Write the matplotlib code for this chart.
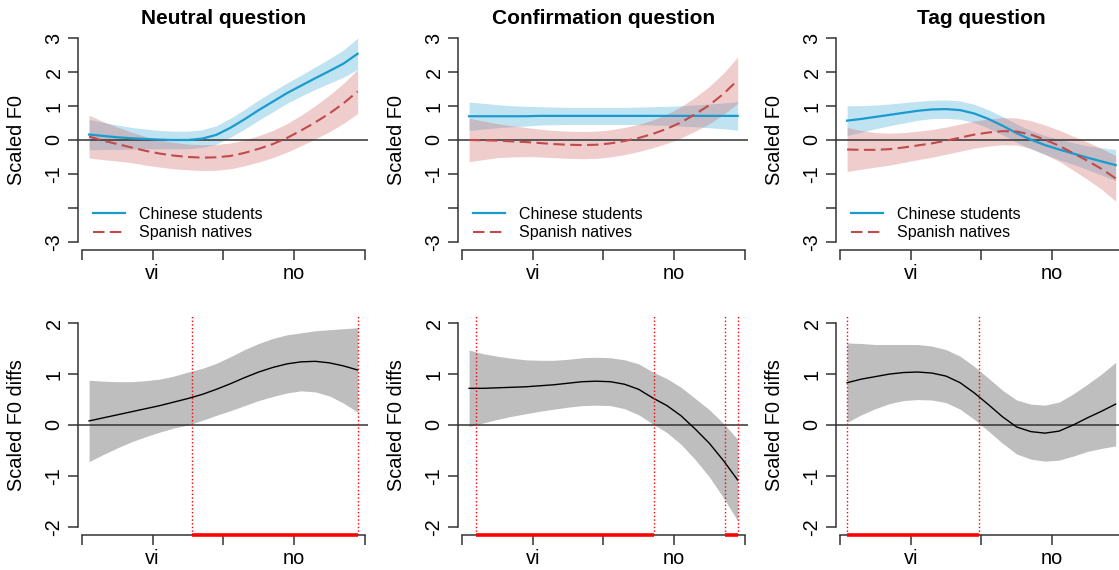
import numpy as np
import matplotlib.pyplot as plt

plt.rcParams['font.family'] = ['Liberation Sans', 'DejaVu Sans']

# normalised time over "vi no"
t = np.array([0.025, 0.075, 0.125, 0.175, 0.225, 0.275, 0.325, 0.375, 0.425, 0.475,
              0.525, 0.575, 0.625, 0.675, 0.725, 0.775, 0.825, 0.875, 0.925, 0.975])

titles = ["Neutral question", "Confirmation question", "Tag question"]
group_labels = ["Chinese students", "Spanish natives"]
xtick_pos = [0, 0.25, 0.5, 0.75, 1]
xtick_labels = ["", "vi", "", "no", ""]

# --- fitted smooths (fit and CI half width) ---
neutral_cn = [0.16, 0.12, 0.08, 0.05, 0.03, 0.01, 0.0, 0.0, 0.04, 0.15,
              0.36, 0.61, 0.88, 1.13, 1.38, 1.60, 1.82, 2.03, 2.25, 2.54]
neutral_cn_ci = [0.45, 0.40, 0.36, 0.32, 0.29, 0.27, 0.26, 0.26, 0.26, 0.27,
                 0.28, 0.29, 0.30, 0.30, 0.30, 0.31, 0.33, 0.36, 0.40, 0.46]
neutral_es = [0.10, -0.02, -0.12, -0.22, -0.32, -0.40, -0.46, -0.50, -0.52, -0.51,
              -0.47, -0.38, -0.26, -0.12, 0.06, 0.28, 0.52, 0.78, 1.08, 1.43]
neutral_es_ci = [0.63, 0.56, 0.50, 0.45, 0.42, 0.40, 0.39, 0.38, 0.38, 0.38,
                 0.38, 0.38, 0.39, 0.40, 0.42, 0.45, 0.49, 0.54, 0.59, 0.65]

confirm_cn = [0.70, 0.70, 0.70, 0.70, 0.70, 0.71, 0.71, 0.71, 0.71, 0.71,
              0.71, 0.71, 0.71, 0.71, 0.71, 0.71, 0.71, 0.71, 0.71, 0.71]
confirm_cn_ci = [0.42, 0.38, 0.34, 0.31, 0.29, 0.27, 0.26, 0.25, 0.25, 0.25,
                 0.25, 0.25, 0.26, 0.27, 0.28, 0.30, 0.32, 0.35, 0.38, 0.42]
confirm_es = [0.0, -0.01, -0.02, -0.04, -0.06, -0.09, -0.12, -0.14, -0.15, -0.14,
              -0.10, -0.03, 0.06, 0.18, 0.33, 0.52, 0.76, 1.03, 1.36, 1.76]
confirm_es_ci = [0.64, 0.57, 0.50, 0.46, 0.43, 0.41, 0.40, 0.40, 0.40, 0.40,
                 0.40, 0.40, 0.40, 0.41, 0.43, 0.46, 0.50, 0.55, 0.61, 0.68]

tag_cn = [0.57, 0.62, 0.68, 0.74, 0.80, 0.86, 0.90, 0.91, 0.88, 0.78,
          0.62, 0.42, 0.20, 0.01, -0.15, -0.28, -0.40, -0.52, -0.63, -0.74]
tag_cn_ci = [0.44, 0.39, 0.35, 0.32, 0.30, 0.28, 0.27, 0.27, 0.27, 0.27,
             0.27, 0.27, 0.27, 0.27, 0.28, 0.30, 0.32, 0.35, 0.40, 0.46]
tag_es = [-0.28, -0.29, -0.29, -0.27, -0.22, -0.16, -0.10, -0.02, 0.07, 0.16,
          0.22, 0.26, 0.25, 0.16, 0.01, -0.17, -0.39, -0.61, -0.85, -1.13]
tag_es_ci = [0.65, 0.57, 0.51, 0.47, 0.44, 0.42, 0.41, 0.40, 0.40, 0.40,
             0.40, 0.40, 0.40, 0.41, 0.43, 0.46, 0.50, 0.55, 0.60, 0.67]

# --- difference curves (Chinese - Spanish) ---
neutral_diff = [0.08, 0.14, 0.20, 0.26, 0.32, 0.38, 0.45, 0.52, 0.60, 0.70,
                0.81, 0.93, 1.04, 1.13, 1.20, 1.24, 1.25, 1.22, 1.16, 1.08]
neutral_diff_ci = [0.80, 0.72, 0.65, 0.59, 0.55, 0.52, 0.51, 0.52, 0.51, 0.51,
                   0.53, 0.55, 0.56, 0.57, 0.57, 0.57, 0.60, 0.65, 0.73, 0.83]
confirm_diff = [0.72, 0.72, 0.73, 0.74, 0.75, 0.77, 0.79, 0.82, 0.85, 0.86,
                0.85, 0.80, 0.70, 0.53, 0.38, 0.18, -0.08, -0.36, -0.70, -1.08]
confirm_diff_ci = [0.75, 0.68, 0.62, 0.57, 0.53, 0.50, 0.48, 0.47, 0.47, 0.47,
                   0.47, 0.48, 0.50, 0.51, 0.53, 0.56, 0.60, 0.66, 0.73, 0.80]
tag_diff = [0.83, 0.90, 0.95, 1.00, 1.03, 1.04, 1.02, 0.96, 0.83, 0.63,
            0.40, 0.16, -0.04, -0.13, -0.16, -0.12, 0.0, 0.14, 0.27, 0.41]
tag_diff_ci = [0.78, 0.70, 0.63, 0.58, 0.55, 0.54, 0.53, 0.52, 0.52, 0.52,
               0.52, 0.52, 0.53, 0.54, 0.55, 0.57, 0.61, 0.66, 0.73, 0.82]

# significant stretches of the difference
neutral_sig = [(0.388, 0.975)]
confirm_sig = [(0.05, 0.679), (0.93, 0.975)]
tag_sig = [(0.025, 0.492)]

smooths = [(neutral_cn, neutral_cn_ci, neutral_es, neutral_es_ci),
           (confirm_cn, confirm_cn_ci, confirm_es, confirm_es_ci),
           (tag_cn, tag_cn_ci, tag_es, tag_es_ci)]
diffs = [(neutral_diff, neutral_diff_ci, neutral_sig),
         (confirm_diff, confirm_diff_ci, confirm_sig),
         (tag_diff, tag_diff_ci, tag_sig)]

blue = '#1a9bcf'
red = '#c24a4a'
axcol = '#333333'

fig = plt.figure(figsize=(11.19, 5.7), dpi=100)
lefts = [0.070, 0.4096, 0.7474]
W, H = 0.2592, 0.386


def base_axis(ax, ylim, yticks, ylabels, ylabel):
    ax.set_xlim(-0.013, 1.013)
    ax.set_ylim(-ylim, ylim)
    for s in ['top', 'right']:
        ax.spines[s].set_visible(False)
    for s in ['left', 'bottom']:
        ax.spines[s].set_color(axcol)
        ax.spines[s].set_linewidth(1.1)
    ax.spines['left'].set_bounds(yticks[-1], yticks[0])
    ax.spines['bottom'].set_bounds(0, 1)
    ax.set_xticks(xtick_pos, xtick_labels)
    ax.set_yticks(yticks, ylabels, rotation=90, va='center', ha='center')
    ax.tick_params(length=7, width=1.1, color=axcol, labelsize=14.3)
    ax.tick_params(axis='x', pad=3)
    ax.tick_params(axis='y', pad=10.5)
    ax.set_ylabel(ylabel, fontsize=14.4)
    ax.yaxis.set_label_coords(-0.18, 0.5)
    ax.axhline(0, color=axcol, lw=1.1, zorder=2)


for i in range(3):
    # top row: smooths per group
    ax = fig.add_axes([lefts[i], 0.5614, W, H])
    cn, cn_ci, es, es_ci = [np.array(a) for a in smooths[i]]
    ax.fill_between(t, cn - cn_ci, cn + cn_ci, color=blue, alpha=0.28, lw=0, zorder=1)
    ax.fill_between(t, es - es_ci, es + es_ci, color='#cd5c5c', alpha=0.3, lw=0, zorder=1)
    base_axis(ax, 3.24, [3, 2, 1, 0, -1, -2, -3], ['3', '2', '1', '0', '-1', '', '-3'], 'Scaled F0')
    l1, = ax.plot(t, cn, color=blue, lw=1.6, zorder=3)
    l2, = ax.plot(t, es, color=red, lw=1.5, dashes=(5.5, 2.6), zorder=3)
    ax.legend([l1, l2], group_labels, loc='lower left', bbox_to_anchor=(0.05, 0.045),
              frameon=False, fontsize=11.5, handlelength=2.0, handletextpad=0.9,
              labelspacing=0.2, borderaxespad=0, borderpad=0)
    ax.set_title(titles[i], fontsize=15, fontweight='bold', pad=4)

    # bottom row: difference curves
    ax = fig.add_axes([lefts[i], 0.0614, W, H])
    d, d_ci, sig = diffs[i]
    d = np.array(d)
    d_ci = np.array(d_ci)
    ax.fill_between(t, d - d_ci, d + d_ci, color='#bebebe', lw=0, zorder=1)
    base_axis(ax, 2.16, [2, 1, 0, -1, -2], ['2', '1', '0', '-1', '-2'], 'Scaled F0 diffs')
    ax.plot(t, d, color='black', lw=1.0, zorder=3)
    for a, b in sig:
        ax.axvline(a, color='red', ls=':', lw=1.0, zorder=4)
        ax.axvline(b, color='red', ls=':', lw=1.0, zorder=4)
        ax.plot([a, b], [-2.16, -2.16], color='red', lw=2.6, solid_capstyle='butt',
                clip_on=False, zorder=5)

fig.savefig('out.png', dpi=100)
